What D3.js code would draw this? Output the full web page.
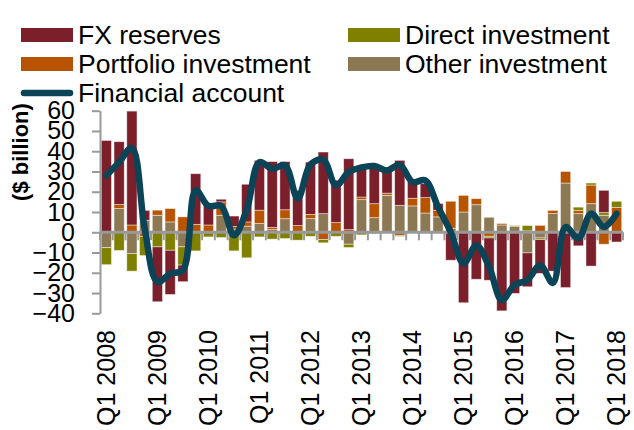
<!DOCTYPE html>
<html>
<head>
<meta charset="utf-8">
<script src="https://cdn.jsdelivr.net/npm/d3@7"></script>
<style>
  body { margin: 0; background: #fff; }
  svg { display: block; font-family: Arial, "Liberation Sans", sans-serif; }
</style>
</head>
<body>
<svg id="chart" width="634" height="430"></svg>
<script>
// Quarters Q1 2008 .. Q1 2018
const quarters = [];
for (let y = 2008; y <= 2018; y++) {
  for (let q = 1; q <= 4; q++) {
    if (y === 2018 && q > 1) break;
    quarters.push(`Q${q} ${y}`);
  }
}

// $ billion
const fxReserves = [45.3, 31.0, 56.2, 4.9, -27.1, -21.8, -8.2, 25.0, 9.7, 1.3,
  5.1, 18.6, 24.6, 32.5, 23.8, 17.4, 25.8, 30.4, 20.9, 35.0,
  15.3, 19.2, 11.2, 22.2, 8.9, 6.9, 3.3, -13.8, -34.8, -23.2,
  -20.9, -38.8, -30.2, -16.7, -16.7, -19.2, -27.3, -6.7, -16.7, 11.0, -4.8];
const portfolioInv = [0, 2.0, 3.6, -2.0, 2.5, 6.6, 7.6, 3.9, 3.6, 6.6,
  1.3, 2.1, 6.6, 1.1, 4.4, 3.3, 2.1, -3.6, 4.8, 1.3,
  1.3, 6.9, 1.1, -1.5, 3.8, 7.6, 3.3, 13.3, 8.2, 3.0,
  -2.0, 0.7, 0, 0.7, 3.4, 1.6, 5.7, 1.6, 9.2, -5.9, 12.3];
const directInv = [-8.4, -9.0, -8.7, -9.5, -7.2, -8.9, -9.0, -9.2, -2.3, -2.6,
  -9.2, -12.6, -2.3, -3.4, -3.1, -3.9, -2.0, -1.6, -2.0, -1.6,
  -1.3, -0.7, 0, -0.5, 0, -0.3, 0, 0, 0, 0,
  -0.8, 0, 0.5, 2.6, -0.8, 0, 0, 1.6, 1.0, 1.3, 3.0];
const otherInv = [-7.6, 11.7, -10.5, 5.9, 8.4, 5.1, -7.2, 0, 0, 8.4,
  1.6, 3.0, 4.3, 1.3, 6.7, 0, 6.7, 9.2, 0, -5.9,
  16.1, 7.2, 18.2, 13.3, 13.0, 9.5, 7.6, 2.0, 10.0, 13.6,
  7.4, 3.6, 2.8, -10.2, -2.8, 9.2, 24.3, 9.2, 14.1, 8.4, 0];
const financialAccount = [28, 34.6, 41.7, 2, -24.5, -20.5, -18.7, 20.7, 13, 13,
  -1.5, 11, 34.6, 31.4, 33, 16.6, 33.5, 35.8, 23.2, 29.7,
  32, 32.7, 30.5, 33.3, 24.8, 25.6, 12.5, 0, -15.4, -6.4,
  -17, -33.5, -26, -23.6, -16.3, -25, 2.5, -3, 9.2, 2.6, 9.2];

const yTicks = [-40, -30, -20, -10, 0, 10, 20, 30, 40, 50, 60];

const series = [
  { key: "other", name: "Other investment", color: "#8c7853", values: otherInv },
  { key: "portfolio", name: "Portfolio investment", color: "#b85400", values: portfolioInv },
  { key: "direct", name: "Direct investment", color: "#808000", values: directInv },
  { key: "fx", name: "FX reserves", color: "#7b1f2b", values: fxReserves }
];
const LINE_COLOR = "#0c4457";
const AXIS_COLOR = "#999";

const svg = d3.select("#chart");

// Scales
const xScale = d3.scaleBand()
  .domain(quarters)
  .range([100, 623])
  .paddingInner(0.2)
  .paddingOuter(0.1);

const yScale = d3.scaleLinear()
  .domain([-40, 60])
  .range([313.3, 110.7]);

// Stacked bars (diverging)
const table = quarters.map((q, i) => {
  const row = { quarter: q };
  series.forEach(s => { row[s.key] = s.values[i]; });
  return row;
});
const stacked = d3.stack()
  .keys(series.map(s => s.key))
  .offset(d3.stackOffsetDiverging)(table);

svg.append("g")
  .selectAll("g")
  .data(stacked)
  .join("g")
    .attr("fill", (d, i) => series[i].color)
  .selectAll("rect")
  .data(d => d)
  .join("rect")
    .attr("x", d => xScale(d.data.quarter))
    .attr("width", xScale.bandwidth())
    .attr("y", d => yScale(Math.max(d[0], d[1])))
    .attr("height", d => Math.abs(yScale(d[0]) - yScale(d[1])))
    .attr("stroke", "rgba(255,255,255,0.55)")
    .attr("stroke-width", 0.8);

// Y axis
const yAxis = svg.append("g")
  .attr("transform", "translate(100,0)")
  .call(d3.axisLeft(yScale)
    .tickValues(yTicks)
    .tickSize(8)
    .tickSizeOuter(0)
    .tickPadding(17));
yAxis.select(".domain").attr("stroke", AXIS_COLOR).attr("stroke-width", 2);
yAxis.selectAll(".tick line").attr("stroke", AXIS_COLOR).attr("stroke-width", 2);
yAxis.selectAll(".tick text")
  .attr("font-size", 25)
  .attr("fill", "#000")
  .attr("font-family", "Arial, 'Liberation Sans', sans-serif");

// Zero line with quarter ticks
const step = xScale.step();
const boundaries = d3.range(quarters.length + 1).map(i => xScale.range()[0] + i * step);
const zeroY = yScale(0);

svg.append("g")
  .selectAll("line")
  .data(boundaries)
  .join("line")
    .attr("x1", d => d)
    .attr("x2", d => d)
    .attr("y1", zeroY)
    .attr("y2", zeroY + 8)
    .attr("stroke", AXIS_COLOR)
    .attr("stroke-width", 2);

svg.append("line")
  .attr("x1", 100)
  .attr("x2", 623)
  .attr("y1", zeroY)
  .attr("y2", zeroY)
  .attr("stroke", AXIS_COLOR)
  .attr("stroke-width", 3);

// X labels (every Q1)
svg.append("g")
  .selectAll("text")
  .data(quarters.filter(q => q.startsWith("Q1")))
  .join("text")
    .attr("transform", d => `translate(${xScale(d) + xScale.bandwidth() / 2},330) rotate(-90)`)
    .attr("text-anchor", "end")
    .attr("dy", "0.35em")
    .attr("font-size", 25)
    .attr("fill", "#000")
    .text(d => d);

// Financial account line
const lineGen = d3.line()
  .x((d, i) => xScale(quarters[i]) + xScale.bandwidth() / 2)
  .y(d => yScale(d))
  .curve(d3.curveCatmullRom);

svg.append("path")
  .datum(financialAccount)
  .attr("d", lineGen)
  .attr("fill", "none")
  .attr("stroke", LINE_COLOR)
  .attr("stroke-width", 6.5)
  .attr("stroke-linejoin", "round")
  .attr("stroke-linecap", "round");

// Y axis title
svg.append("text")
  .attr("transform", "translate(20,152) rotate(-90)")
  .attr("text-anchor", "middle")
  .attr("dy", "0.35em")
  .attr("font-size", 22)
  .attr("font-weight", "bold")
  .attr("fill", "#000")
  .text("($ billion)");

// Legend
const legendItems = [
  { name: "FX reserves", color: "#7b1f2b", x: 21, y: 35 },
  { name: "Direct investment", color: "#808000", x: 348, y: 35 },
  { name: "Portfolio investment", color: "#b85400", x: 21, y: 64 },
  { name: "Other investment", color: "#8c7853", x: 348, y: 64 }
];
const legend = svg.append("g");
legendItems.forEach(item => {
  legend.append("rect")
    .attr("x", item.x)
    .attr("y", item.y - 7)
    .attr("width", 52)
    .attr("height", 14)
    .attr("fill", item.color);
  legend.append("text")
    .attr("x", item.x + 57)
    .attr("y", item.y)
    .attr("dy", "0.35em")
    .attr("font-size", 26.5)
    .attr("fill", "#000")
    .text(item.name);
});
legend.append("line")
  .attr("x1", 24)
  .attr("x2", 70)
  .attr("y1", 93)
  .attr("y2", 93)
  .attr("stroke", LINE_COLOR)
  .attr("stroke-width", 6.5)
  .attr("stroke-linecap", "round");
legend.append("text")
  .attr("x", 78)
  .attr("y", 93)
  .attr("dy", "0.35em")
  .attr("font-size", 26.5)
  .attr("fill", "#000")
  .text("Financial account");
</script>
</body>
</html>
